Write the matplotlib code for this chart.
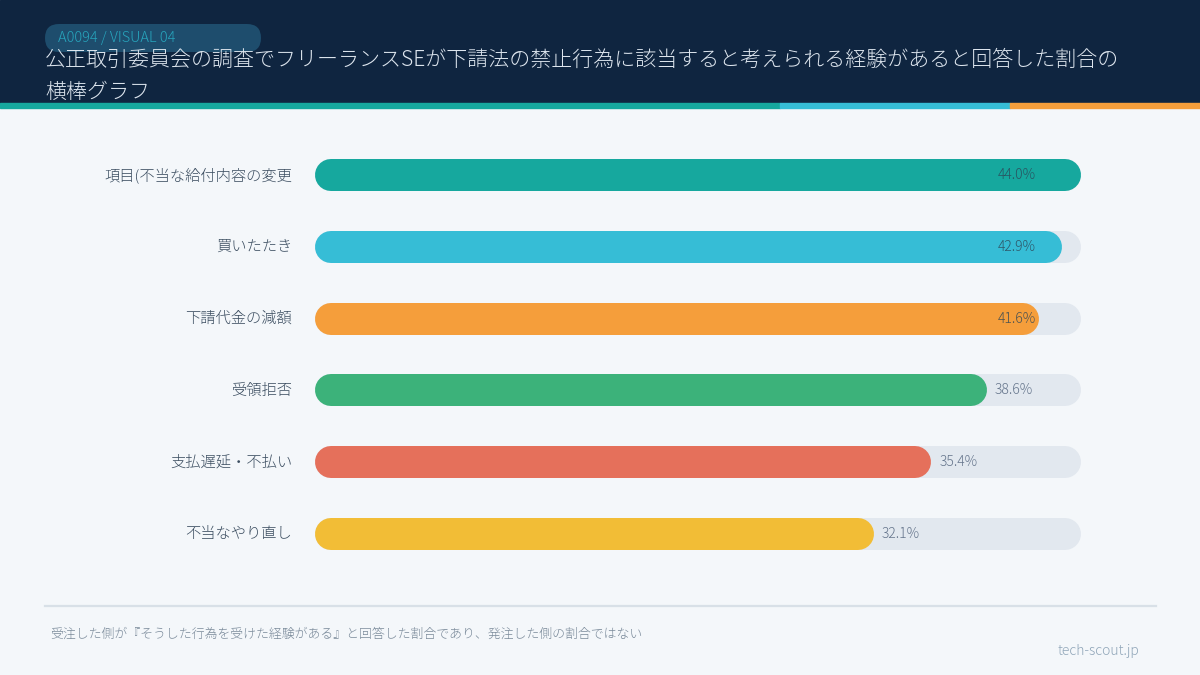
import matplotlib
matplotlib.use("Agg")
import matplotlib.pyplot as plt
from matplotlib.patches import Rectangle, FancyBboxPatch

plt.rcParams['font.family'] = ['Noto Sans CJK JP', 'DejaVu Sans']
plt.rcParams['font.weight'] = 'light'

# data
categories = ["項目(不当な給付内容の変更", "買いたたき", "下請代金の減額",
              "受領拒否", "支払遅延・不払い", "不当なやり直し"]
values = [44.0, 42.9, 41.6, 38.6, 35.4, 32.1]
colors = ["#16a89e", "#36bdd6", "#f59e3b", "#3cb27a", "#e5705b", "#f2bd36"]

title = "公正取引委員会の調査でフリーランスSEが下請法の禁止行為に該当すると考えられる経験があると回答した割合の\n横棒グラフ"
tag = "A0094 / VISUAL 04"
note = "受注した側が『そうした行為を受けた経験がある』と回答した割合であり、発注した側の割合ではない"
credit = "tech-scout.jp"

W, H = 1200, 675
fig = plt.figure(figsize=(W / 100, H / 100), dpi=100)
fig.patch.set_facecolor("#f4f7fa")

# background layer in pixel units for the header / footer decoration
bg = fig.add_axes([0, 0, 1, 1], zorder=0)
bg.set_xlim(0, W)
bg.set_ylim(H, 0)
bg.axis("off")

bg.add_patch(Rectangle((0, 0), W, 103, color="#0f2540"))
for x0, x1, c in [(0, 780, "#16a89e"), (780, 1010, "#36bdd6"), (1010, 1200, "#f59e3b")]:
    bg.add_patch(Rectangle((x0, 103), x1 - x0, 5, color=c))
bg.add_patch(FancyBboxPatch((45, 24), 216, 28, boxstyle="round,pad=0,rounding_size=14",
                            color="#1e4d6d", lw=0))
bg.text(58, 38, tag, fontsize=10.5, color="#27a5bd", va="center", ha="left")
line1, line2 = title.split("\n")
bg.text(45, 60, line1, fontsize=15.1, color="#dde5ee", va="center", ha="left")
bg.text(45, 92, line2, fontsize=15.1, color="#dde5ee", va="center", ha="left")

bg.plot([45, 1156], [606, 606], color="#d8e0e7", lw=1.6)
bg.text(50, 634, note, fontsize=9.3, color="#7a8a9a", va="center", ha="left")
bg.text(1139, 651, credit, fontsize=10, color="#8fa5b8", va="center", ha="right")

# chart axes
ax = fig.add_axes([315 / W, 1 - 570 / H, (1081 - 315) / W, 431 / H], zorder=1)
ax.set_facecolor("none")
vmax = max(values)
ax.set_xlim(0, vmax)
ax.set_ylim(len(values) - 0.5, -0.5)
ax.axis("off")

bar_px = 32
lw = bar_px * 72 / 100
r = (bar_px / 2) / (1081 - 315) * vmax  # cap radius in data units

for i, (cat, v, c) in enumerate(zip(categories, values, colors)):
    ax.plot([r, vmax - r], [i, i], color="#e2e8ef", lw=lw, solid_capstyle="round",
            zorder=1)
    ax.plot([r, v - r], [i, i], color=c, lw=lw, solid_capstyle="round", zorder=2)
    ax.annotate(cat, xy=(0, i), xytext=(-16.5, 0), textcoords="offset points",
                ha="right", va="center", fontsize=11, color="#3b4d60")
    if v / vmax > 0.9:
        ax.annotate(f"{v:.1f}%", xy=(vmax, i), xytext=(-32.4, 0),
                    textcoords="offset points", ha="right", va="center",
                    fontsize=10, color="#2d4556", alpha=0.85, zorder=3)
    else:
        ax.annotate(f"{v:.1f}%", xy=(v, i), xytext=(5.8, 0),
                    textcoords="offset points", ha="left", va="center",
                    fontsize=10, color="#64748b", zorder=3)

fig.savefig("out.png", dpi=100)
